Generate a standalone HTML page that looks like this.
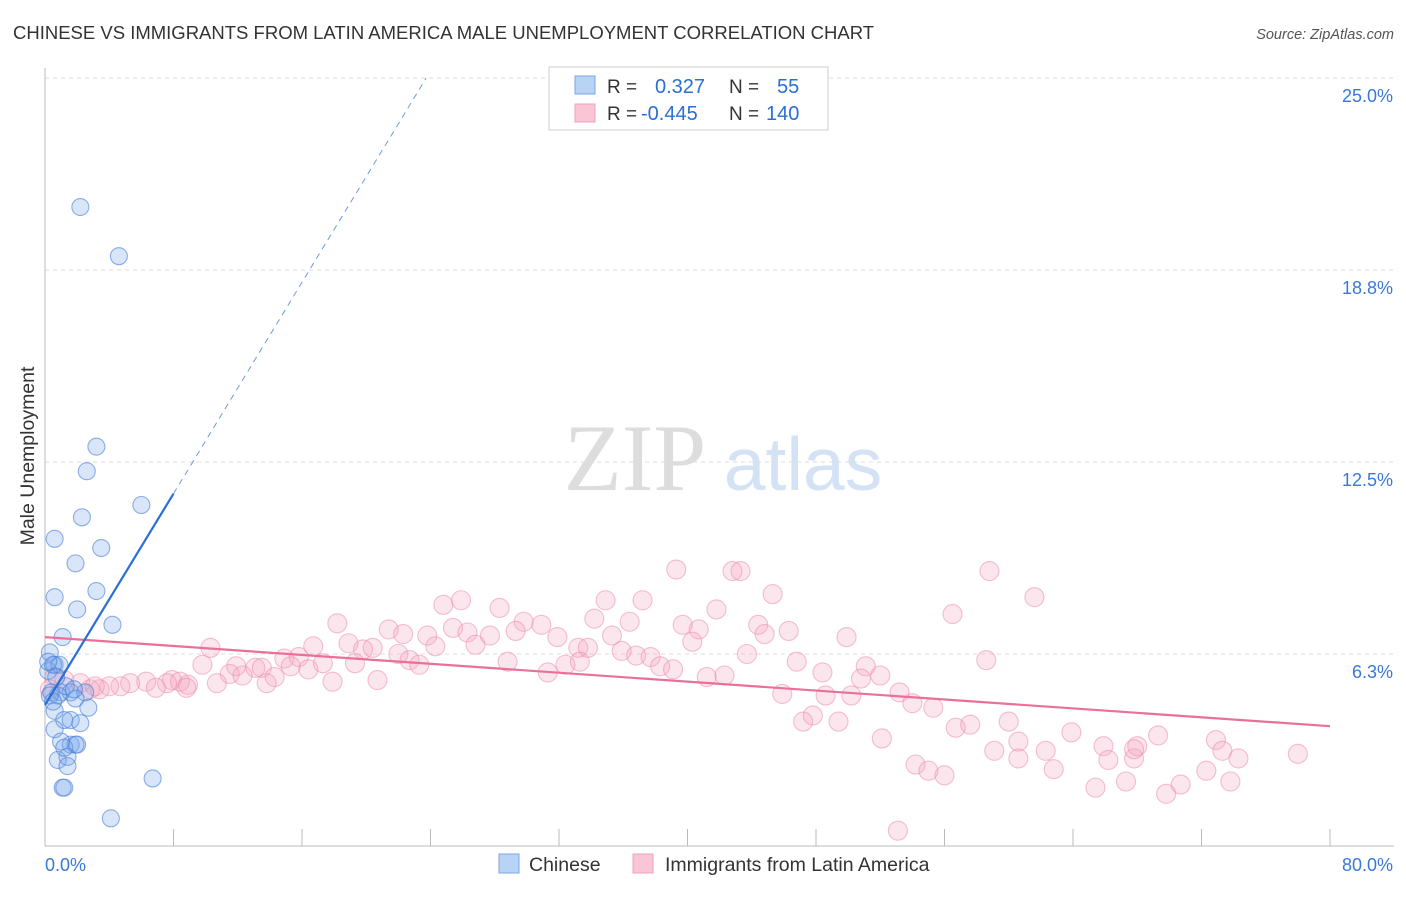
<!DOCTYPE html>
<html><head><meta charset="utf-8"><style>
body{margin:0;background:#fff;font-family:"Liberation Sans",sans-serif}
</style></head><body>
<svg id="chart" width="1406" height="892" xmlns="http://www.w3.org/2000/svg" font-family="Liberation Sans, sans-serif">
<text x="13" y="39" font-size="18.5" fill="#333">CHINESE VS IMMIGRANTS FROM LATIN AMERICA MALE UNEMPLOYMENT CORRELATION CHART</text>
<text x="1394" y="39" font-size="14.5" fill="#555" text-anchor="end" font-style="italic">Source: ZipAtlas.com</text>
<text transform="translate(34,456) rotate(-90)" font-size="19.5" fill="#333" text-anchor="middle">Male Unemployment</text>
<g font-size="95" text-anchor="middle"><text x="635" y="490" fill="#ddd" font-family="Liberation Serif, serif">ZIP</text><text x="803" y="490" fill="#d3e2f5" font-size="75">atlas</text></g>
<g id="grid"></g><g id="axes"></g><g id="pts"></g><g id="lines"></g>
<g>
<rect x="549" y="67" width="279" height="63" fill="#fff" stroke="#ccc"/>
<rect x="575" y="76" width="20" height="18" fill="#b9d3f5" stroke="#7aa6e6"/>
<rect x="575" y="104" width="20" height="18" fill="#fac6d6" stroke="#f0a0bc"/>
<text x="607" y="93" font-size="19" fill="#333">R =</text><text x="655" y="93" font-size="20" fill="#2a6fd6">0.327</text>
<text x="729" y="93" font-size="19" fill="#333">N =</text><text x="777" y="93" font-size="20" fill="#2a6fd6">55</text>
<text x="607" y="120" font-size="19" fill="#333">R =</text><text x="641" y="120" font-size="20" fill="#2a6fd6">-0.445</text>
<text x="729" y="120" font-size="19" fill="#333">N =</text><text x="766" y="120" font-size="20" fill="#2a6fd6">140</text>
</g>
<g>
<rect x="499" y="854" width="20" height="19" fill="#b9d3f5" stroke="#7aa6e6"/>
<text x="529" y="871" font-size="19.5" fill="#333">Chinese</text>
<rect x="633" y="854" width="20" height="19" fill="#fac6d6" stroke="#f0a0bc"/>
<text x="665" y="871" font-size="19.5" fill="#333">Immigrants from Latin America</text>
</g>
</svg>
<script>
const xTicks=[0,8,16,24,32,40,48,56,64,72,80];
const yTicks=[6.25,12.5,18.75,25];
const yTickLabels=["6.3%","12.5%","18.8%","25.0%"];
const xLabels=["0.0%","80.0%"];
const blueX=[2.2,4.6,3.2,2.6,6.0,2.3,0.6,3.5,1.9,3.2,0.6,2.0,4.2,1.1,0.3,0.6,0.2,0.5,0.9,0.4,1.0,1.6,2.5,0.3,1.9,2.7,0.6,1.2,1.6,2.2,0.6,1.6,1.9,1.0,0.8,1.4,1.4,1.1,1.2,6.7,4.1,0.8,1.3,1.8,0.2,0.5,1.2,2.0,0.7];
const blueY=[20.8,19.2,13.0,12.2,11.1,10.7,10.0,9.7,9.2,8.3,8.1,7.7,7.2,6.8,6.3,5.9,5.7,5.9,5.9,5.0,5.0,5.0,5.0,4.9,4.8,4.5,4.4,4.1,4.1,4.0,3.8,3.3,3.3,3.4,2.8,2.9,2.6,1.9,1.9,2.2,0.9,4.9,5.2,5.1,6.0,4.7,3.2,3.3,5.5];
const pinkX=[39.3,42.8,43.3,58.8,45.3,61.6,25.9,24.8,34.9,37.2,28.3,41.8,56.5,18.2,29.8,30.9,36.4,39.7,44.4,21.4,25.4,34.2,22.3,23.8,26.3,27.7,29.3,31.9,35.3,40.7,46.3,44.8,49.9,10.3,16.7,18.9,19.8,20.4,24.3,26.8,33.2,33.8,35.9,36.8,37.7,40.3,43.7,22.0,14.9,15.8,17.3,19.3,22.7,23.3,28.8,32.4,33.3,38.3,39.1,46.8,58.6,9.8,11.9,13.1,13.5,15.3,16.4,31.3,48.4,51.1,11.5,12.3,14.3,17.9,20.7,41.2,42.3,50.8,52.0,7.9,8.4,8.9,7.6,6.3,5.3,4.7,4.0,3.4,2.8,2.2,1.2,0.6,0.3,3.1,6.9,10.7,13.8,8.8,45.9,48.6,50.2,53.2,54.0,55.3,47.2,47.8,49.4,56.7,57.6,60.0,63.9,52.1,60.6,69.3,72.9,59.1,62.3,65.9,68.0,60.6,73.3,74.3,54.2,55.0,56.0,62.8,66.2,67.8,72.3,78.0,65.4,67.3,70.7,69.8,73.8,53.1,67.8];
const pinkY=[9.0,8.95,8.95,8.95,8.2,8.1,8.0,7.85,8.0,8.0,7.75,7.7,7.55,7.25,7.3,7.2,7.3,7.2,7.2,7.05,7.1,7.4,6.9,6.85,6.95,6.85,7.0,6.8,6.85,7.05,7.0,6.9,6.8,6.45,6.5,6.6,6.4,6.45,6.5,6.55,6.45,6.45,6.35,6.2,6.15,6.65,6.25,6.25,6.1,6.15,5.95,5.95,6.05,5.9,6.0,5.9,6.0,5.85,5.75,6.0,6.05,5.9,5.85,5.8,5.8,5.85,5.75,5.65,5.65,5.85,5.6,5.55,5.5,5.35,5.4,5.5,5.55,5.45,5.55,5.4,5.35,5.25,5.3,5.35,5.3,5.2,5.2,5.1,5.1,5.3,5.4,5.5,5.1,5.2,5.15,5.3,5.3,5.15,4.95,4.9,4.9,5.0,4.65,4.5,4.05,4.25,4.05,3.85,3.95,4.05,3.7,3.5,3.4,3.6,3.45,3.1,3.1,3.25,3.25,2.85,3.1,2.85,2.65,2.45,2.3,2.5,2.8,2.85,2.45,3.0,1.9,2.1,2.0,1.7,2.1,0.5,3.15];
const blueTrend=[4.59,0.86]; // intercept, slope
const pinkTrend=[6.8,-0.03625];
const X=v=>45+v*1285/80, Y=v=>846-v*30.72;
const NS="http://www.w3.org/2000/svg";
function mk(p,t,a){const e=document.createElementNS(NS,t);for(const k in a)e.setAttribute(k,a[k]);document.getElementById(p).appendChild(e);return e;}
yTicks.forEach((t,i)=>{
 const g=mk('grid','line',{x1:45,x2:1394,y1:Y(t),y2:Y(t),stroke:'#ddd','stroke-dasharray':'4,4'});
 
 
 const l=mk('axes','text',{x:1393,y:Y(t)+24,'font-size':18,fill:'#3a78d8','text-anchor':'end'});l.textContent=yTickLabels[i];
 
 
});
const ax=mk('axes','line',{x1:45,x2:1394,y1:846,y2:846,stroke:'#bbb'});


const ay=mk('axes','line',{x1:45,x2:45,y1:68,y2:846,stroke:'#bbb'});


xTicks.forEach(t=>{const e=mk('axes','line',{x1:X(t),x2:X(t),y1:829,y2:846,stroke:'#bbb'});
 
 });
[[0,'start',45],[80,'end',1393]].forEach((d,i)=>{const e=mk('axes','text',{x:d[2],y:871,'font-size':18,fill:'#3a78d8','text-anchor':d[1]});e.textContent=xLabels[i];
 
 });
pinkX.forEach((x,i)=>{const c=mk('pts','circle',{cx:X(x),cy:Y(pinkY[i]),r:9.5,fill:'rgba(245,165,195,0.28)',stroke:'rgba(235,140,172,0.55)','stroke-width':1.1});
 
 });
blueX.forEach((x,i)=>{const c=mk('pts','circle',{cx:X(x),cy:Y(blueY[i]),r:8.5,fill:'rgba(120,165,235,0.28)',stroke:'rgba(70,125,215,0.6)','stroke-width':1.1});
 
 });
const pt=mk('lines','line',{x1:X(0),y1:Y(pinkTrend[0]),x2:X(80),y2:Y(pinkTrend[0]+pinkTrend[1]*80),stroke:'#e8709a','stroke-width':2.2});


const bt=mk('lines','line',{x1:X(0),y1:Y(blueTrend[0]),x2:X(8),y2:Y(blueTrend[0]+blueTrend[1]*8),stroke:'#2a6fd6','stroke-width':2.2});


const bx=(25-blueTrend[0])/blueTrend[1];
const bd=mk('lines','line',{x1:X(8),y1:Y(blueTrend[0]+blueTrend[1]*8),x2:X(bx),y2:Y(25),stroke:'#6a9be0','stroke-width':1,'stroke-dasharray':'6,5'});


</script>
</body></html>
